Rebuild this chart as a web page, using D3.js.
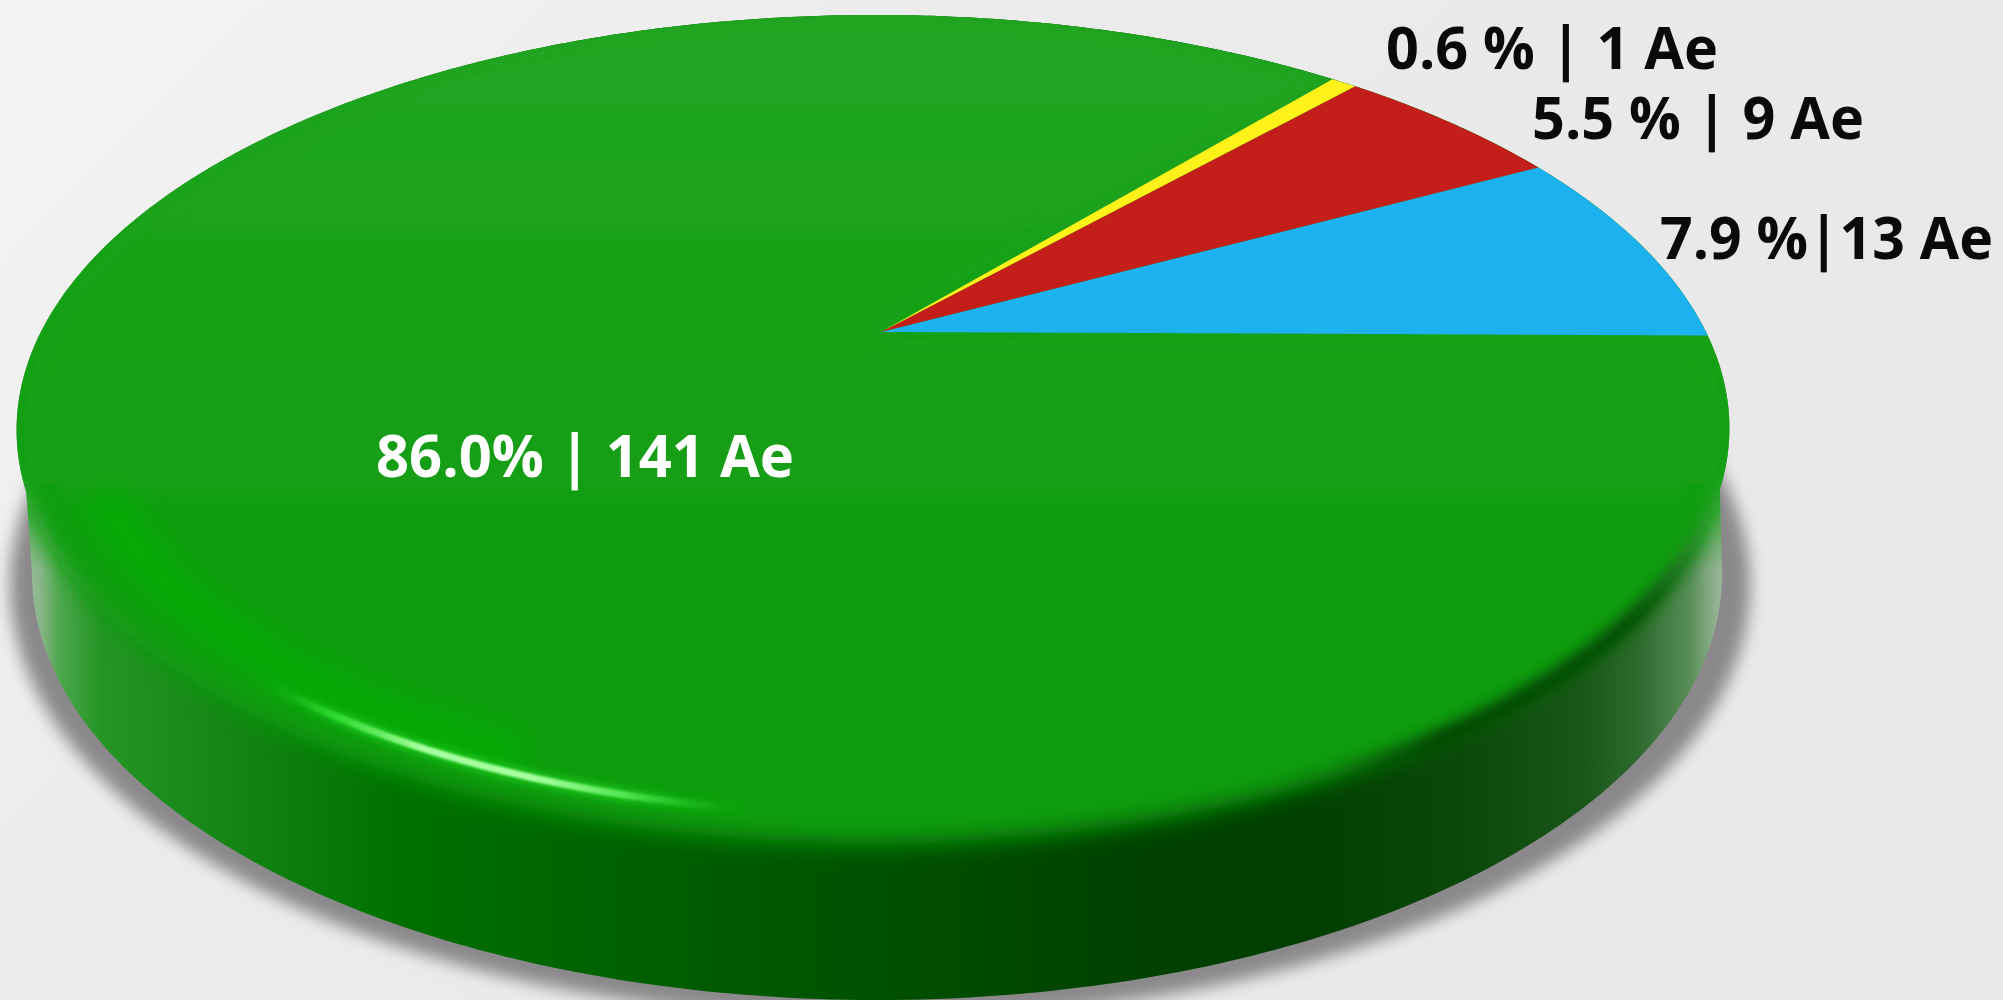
<!DOCTYPE html>
<html>
<head>
<meta charset="utf-8">
<script src="https://cdn.jsdelivr.net/npm/d3@7"></script>
<style>
  html, body { margin: 0; padding: 0; background: #ebebeb; overflow: hidden; }
  text { font-family: "Open Sans", sans-serif; font-weight: 700; }
</style>
</head>
<body>
<div id="chart"></div>
<script>
var categories = ["blue", "red", "yellow", "green"];
var counts = [13, 9, 1, 141];
var labels = ["7.9 %|13 Ae", "5.5 % | 9 Ae", "0.6 % | 1 Ae", "86.0% | 141 Ae"];
var sliceColors = ["#1cb2f0", "#c41e1a", "#fff21a", "url(#faceGrad)"];

var labelColors = ["#0a0a0a", "#0a0a0a", "#0a0a0a", "#ffffff"];
var labelSpots = [[1660, 259, 333], [1532, 139, 332], [1386, 69, 332], [376, 477, 418]];

var width = 2003, height = 1000;
var svg = d3.select("#chart").append("svg")
    .attr("width", width)
    .attr("height", height)
    .style("display", "block");
var defs = svg.append("defs");

// stops are [offset, colour, opacity]
function linGrad(id, x1, y1, x2, y2, stops) {
  var g = defs.append("linearGradient")
      .attr("id", id)
      .attr("gradientUnits", "userSpaceOnUse")
      .attr("x1", x1).attr("y1", y1).attr("x2", x2).attr("y2", y2);
  stops.forEach(function(s) {
    g.append("stop")
        .attr("offset", s[0])
        .attr("stop-color", s[1])
        .attr("stop-opacity", s.length > 2 ? s[2] : 1);
  });
}
function blur(id, dev) {
  defs.append("filter")
      .attr("id", id)
      .attr("filterUnits", "userSpaceOnUse")
      .attr("x", -100).attr("y", -100).attr("width", width + 200).attr("height", height + 200)
      .append("feGaussianBlur").attr("stdDeviation", dev);
}

linGrad("bgGrad", 0, 0, 900, 900, [[0, "#f4f4f4"], [0.5, "#ececec"], [1, "#e9e9e9"]]);
linGrad("faceGrad", 0, 15, 0, 843, [[0, "#24a524"], [0.38, "#15a015"], [1, "#0a9d0a"]]);
linGrad("upperGrad", 0, 0, 0, 570, [[0, "#1ea21e"], [0.82, "#14a014"], [1, "#14a014", 0]]);
linGrad("rimGrad", 20, 0, 1725, 0, [
  [0, "#a0c0a0"], [0.012, "#8ab58a"], [0.023, "#4fa84f"], [0.047, "#259525"], [0.15, "#0f7f0f"],
  [0.22, "#007000"], [0.357, "#006000"], [0.49, "#005200"], [0.64, "#004200"], [0.75, "#003f00"],
  [0.85, "#0c470c"], [0.917, "#1a551a"], [0.95, "#2f6a2f"], [0.98, "#5a8f5a"], [0.994, "#8fb08f"], [1, "#a0b8a0"]
]);
linGrad("coreGrad", 290, 0, 730, 0, [
  [0, "#30d830", 0], [0.12, "#38e038", 0.9], [0.3, "#a8ffa0"], [0.55, "#a8ffa0"], [0.75, "#58e858"], [1, "#10b810", 0]
]);
linGrad("glowGrad", 250, 0, 760, 0, [
  [0, "#10c010", 0], [0.2, "#20d020"], [0.7, "#20d020"], [1, "#10c010", 0]
]);
linGrad("creaseGrad", 1330, 0, 1710, 0, [
  [0, "#004200", 0], [0.3, "#004200"], [0.8, "#004a00"], [1, "#004a00", 0]
]);
blur("shadowBlur", 8);
blur("faceBlur", 12);
blur("bandBlur", 14);
blur("glowBlur", 4);
blur("lineBlur", 1.2);
blur("creaseBlur", 7);

// circle seen in perspective: the pie centre sits above the ellipse centre
var apexX = 881, apexY = 332, spreadX = 832.5, spreadY = 391.3, depth = 0.2343, skew = 0.0091;
var startOffset = -0.5 * Math.PI / 180;

function project(angle, r) {
  var u = r * Math.cos(angle), v = r * Math.sin(angle);
  var den = 1 + depth * v + skew * u;
  return [apexX + spreadX * u / den, apexY - spreadY * v / den];
}
function sweep(a0, a1, r) {
  var n = Math.max(2, Math.ceil(Math.abs(a1 - a0) / 0.01));
  return d3.range(n + 1).map(function(i) {
    return project(a0 + (a1 - a0) * i / n, r);
  });
}

var line = d3.line();
var pie = d3.pie().sort(null).value(function(d) { return d; });
var arcs = pie(counts);

// lower outline of the disc
function lowerEdge() {
  return d3.range(0, 181, 1).map(function(deg) {
    var t = deg * Math.PI / 180;
    return [877 + 845 * Math.cos(t), 574 + 426 * Math.sin(t)];
  });
}
// widest points of the face lie below the pie centre
var topEdge = sweep(Math.PI + 0.38, -0.38, 1);
var hull = line(lowerEdge().concat(topEdge)) + "Z";

svg.append("rect").attr("width", width).attr("height", height).attr("fill", "url(#bgGrad)");

// drop shadow
svg.append("ellipse")
    .attr("cx", 880).attr("cy", 585).attr("rx", 870).attr("ry", 434)
    .attr("fill", "#8b888b")
    .attr("filter", "url(#shadowBlur)");

defs.append("clipPath").attr("id", "hullClip").append("path").attr("d", hull);
var disc = svg.append("g").attr("clip-path", "url(#hullClip)");

disc.append("rect").attr("width", width).attr("height", height).attr("fill", "url(#rimGrad)");
disc.append("rect").attr("width", width).attr("height", 570).attr("fill", "url(#upperGrad)");

// big slice melts into the rim along the front edge
var bigArc = arcs[3];
function slicePath(d) {
  var a0 = startOffset + d.startAngle, a1 = startOffset + d.endAngle;
  return line([[apexX, apexY]].concat(sweep(a0, a1, 1))) + "Z";
}
disc.append("path")
    .attr("d", slicePath(bigArc))
    .attr("fill", sliceColors[3])
    .attr("filter", "url(#faceBlur)");

function edgeStroke(a0, a1, r, color, w, filter, opacity) {
  disc.append("path")
      .attr("d", line(sweep(a0, a1, r)))
      .attr("fill", "none")
      .attr("stroke", color)
      .attr("stroke-width", w)
      .attr("stroke-opacity", opacity)
      .attr("filter", filter);
}

// dark crease on the right of the front edge
edgeStroke(-1.3, -0.4, 1, "url(#creaseGrad)", 16, "url(#creaseBlur)", 1);

// bright bevel and highlight on the front left
edgeStroke(-2.72, -1.95, 0.925, "#00b000", 30, "url(#bandBlur)", 0.85);
edgeStroke(-2.4, -1.6, 0.955, "url(#glowGrad)", 11, "url(#glowBlur)", 1);
edgeStroke(-2.4, -1.6, 0.955, "url(#coreGrad)", 7, "url(#lineBlur)", 1);

// the three small slices, sharp on top
svg.append("g").selectAll("path")
    .data(arcs.slice(0, 3))
    .join("path")
    .attr("d", slicePath)
    .attr("fill", function(d, i) { return sliceColors[i]; });

svg.append("g").selectAll("text")
    .data(labels)
    .join("text")
    .attr("x", function(d, i) { return labelSpots[i][0]; })
    .attr("y", function(d, i) { return labelSpots[i][1]; })
    .attr("textLength", function(d, i) { return labelSpots[i][2]; })
    .attr("lengthAdjust", "spacingAndGlyphs")
    .attr("font-size", 59)
    .attr("fill", function(d, i) { return labelColors[i]; })
    .text(function(d) { return d; });
</script>
</body>
</html>
